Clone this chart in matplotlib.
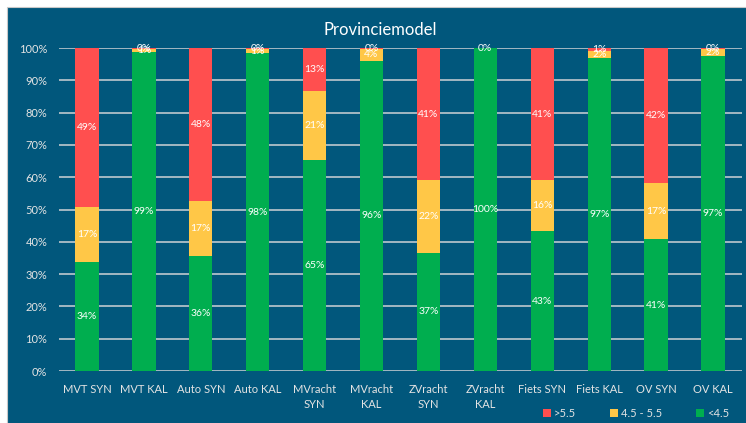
import numpy as np
import matplotlib.pyplot as plt
from matplotlib.patches import Rectangle

plt.rcParams['font.family'] = ['Lato', 'DejaVu Sans']

# categorieën en aandelen (%) per klasse
categories = ['MVT SYN', 'MVT KAL', 'Auto SYN', 'Auto KAL', 'MVracht\nSYN', 'MVracht\nKAL',
              'ZVracht\nSYN', 'ZVracht\nKAL', 'Fiets SYN', 'Fiets KAL', 'OV SYN', 'OV KAL']
low = [33.9, 98.8, 35.6, 98.3, 65.3, 96.0, 36.6, 100.0, 43.2, 96.8, 40.8, 97.4]   # <4.5
mid = [16.8, 0.9, 16.9, 1.4, 21.4, 3.8, 22.4, 0.0, 15.8, 2.3, 17.3, 2.3]          # 4.5 - 5.5
high = [49.3, 0.3, 47.5, 0.3, 13.3, 0.2, 41.0, 0.0, 41.0, 0.9, 41.9, 0.3]         # >5.5

series_names = ['>5.5', '4.5 - 5.5', '<4.5']

BG = '#01577c'
RED = '#ff4f4f'
YELLOW = '#ffc747'
GREEN = '#00ae4f'
TXT = '#e3e3e3'

fig = plt.figure(figsize=(7.46, 4.23), dpi=100)
fig.patch.set_facecolor('white')
fig.patches.append(Rectangle((7 / 746, -0.05), 1.05, 1.05 - 7 / 423, transform=fig.transFigure,
                             facecolor=BG, edgecolor='#c8c8c8', linewidth=0.8, zorder=-5))

ax = fig.add_axes([58.5 / 746, 1 - 371 / 423, (741.5 - 58.5) / 746, (371 - 48) / 423])
ax.set_facecolor(BG)

x = np.arange(len(categories))
w = 0.41
low = np.array(low)
mid = np.array(mid)
high = np.array(high)

b_low = ax.bar(x, low, w, color=GREEN, zorder=3, label='<4.5')
b_mid = ax.bar(x, mid, w, bottom=low, color=YELLOW, zorder=3, label='4.5 - 5.5')
b_high = ax.bar(x, high, w, bottom=low + mid, color=RED, zorder=3, label='>5.5')

# labels in de segmenten
for vals, bottoms in [(low, np.zeros_like(low)), (mid, low), (high, low + mid)]:
    for xi, v, b in zip(x, vals, bottoms):
        if v == 0 and b >= 100:
            continue
        ax.text(xi, b + v / 2, f'{round(v):d}%', ha='center', va='center',
                color='white', fontsize=7.5, zorder=4)
# ZVracht KAL heeft 0% bovenaan
ax.text(7, 100, '0%', ha='center', va='center', color='white', fontsize=7.5, zorder=4)

ax.set_xlim(-0.5, len(categories) - 0.5)
ax.set_ylim(0, 100)
ax.set_yticks(np.arange(0, 101, 10))
ax.set_yticklabels([f'{t}%' for t in range(0, 101, 10)])
ax.set_xticks(x)
ax.set_xticklabels(categories, linespacing=1.5)
ax.tick_params(axis='both', length=0, colors=TXT, labelsize=8)
ax.tick_params(axis='y', pad=8)
ax.tick_params(axis='x', pad=9)
for lab in ax.get_xticklabels():
    lab.set_verticalalignment('top')

ax.grid(axis='y', color='#cfd2d6', linewidth=1.1, zorder=1)
for s in ax.spines.values():
    s.set_visible(False)

fig.text(380 / 746, 1 - 30 / 423, 'Provinciemodel', ha='center', va='center',
         color='white', fontsize=12)

handles = [b_high, b_mid, b_low]
fig.legend(handles, series_names, loc='center left', bbox_to_anchor=(543 / 746, 1 - 413 / 423),
           ncol=3, frameon=False, fontsize=8, labelcolor=TXT, handlelength=0.7,
           handleheight=0.7, handletextpad=0.3, columnspacing=3.05, borderpad=0,
           borderaxespad=0)

plt.savefig('out.png', dpi=100, facecolor='white')
